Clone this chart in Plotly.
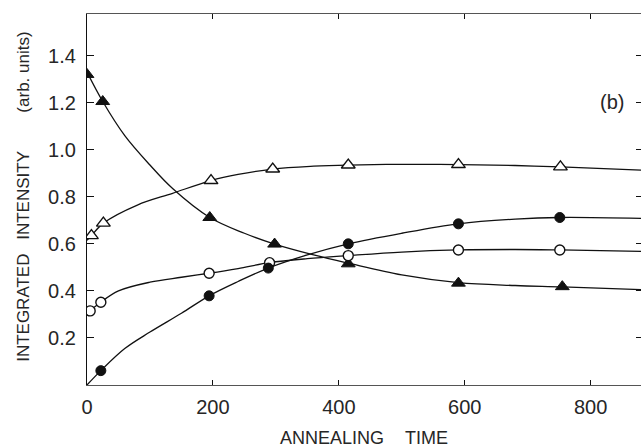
import plotly.graph_objects as go

# ---- data ----
x_ticks = [0, 200, 400, 600, 800]
x_ticktext = ["0", "200", "400", "600", "800"]
y_ticks = [0.2, 0.4, 0.6, 0.8, 1.0, 1.2, 1.4]
y_ticktext = ["0.2", "0.4", "0.6", "0.8", "1.0", "1.2", "1.4"]

# measured points
tri_filled_x = [0, 25, 195, 298, 415, 590, 755]
tri_filled_y = [1.32, 1.205, 0.712, 0.599, 0.515, 0.433, 0.418]
tri_open_x = [7, 26, 197, 295, 415, 590, 752]
tri_open_y = [0.635, 0.688, 0.869, 0.918, 0.935, 0.937, 0.927]
circ_open_x = [5, 22, 194, 290, 415, 590, 751]
circ_open_y = [0.315, 0.352, 0.475, 0.52, 0.55, 0.574, 0.574]
circ_filled_x = [22, 194, 288, 415, 590, 751]
circ_filled_y = [0.061, 0.379, 0.497, 0.60, 0.685, 0.712]

# fitted guide curves
tri_filled_cx = [0, 25, 60, 100, 136, 195, 250, 298, 360, 415, 500, 590, 680, 755, 880]
tri_filled_cy = [1.33, 1.205, 1.06, 0.935, 0.835, 0.712, 0.645, 0.599, 0.553, 0.518, 0.468, 0.435, 0.423, 0.417, 0.405]
tri_open_cx = [0, 7, 26, 80, 136, 197, 240, 295, 360, 415, 500, 590, 680, 752, 880]
tri_open_cy = [0.615, 0.635, 0.688, 0.765, 0.815, 0.869, 0.895, 0.918, 0.93, 0.935, 0.938, 0.937, 0.933, 0.927, 0.913]
circ_open_cx = [0, 5, 22, 50, 100, 150, 194, 240, 290, 350, 415, 500, 590, 680, 751, 880]
circ_open_cy = [0.295, 0.315, 0.352, 0.40, 0.437, 0.458, 0.475, 0.495, 0.52, 0.537, 0.55, 0.565, 0.574, 0.576, 0.574, 0.568]
circ_filled_cx = [0, 22, 60, 100, 150, 194, 240, 288, 350, 415, 500, 590, 680, 751, 880]
circ_filled_cy = [0, 0.061, 0.155, 0.225, 0.305, 0.379, 0.44, 0.497, 0.553, 0.60, 0.645, 0.685, 0.705, 0.712, 0.708]

INK = "#111111"
TEXT = "#262626"
TICKFONT = dict(family="Liberation Sans, Arial, sans-serif", size=20, color=TEXT)
TITLEFONT = dict(family="Liberation Sans, Arial, sans-serif", size=17, color=TEXT)
XTITLEFONT = dict(family="Liberation Sans, Arial, sans-serif", size=18, color=TEXT)

fig = go.Figure()

line_style = dict(color=INK, width=1.3, shape="spline", smoothing=1.0)
for cx, cy in [(tri_filled_cx, tri_filled_cy), (tri_open_cx, tri_open_cy),
               (circ_open_cx, circ_open_cy), (circ_filled_cx, circ_filled_cy)]:
    fig.add_trace(go.Scatter(x=cx, y=cy, mode="lines", line=line_style,
                             showlegend=False, hoverinfo="skip"))

fig.add_trace(go.Scatter(x=tri_filled_x, y=tri_filled_y, mode="markers",
                         marker=dict(symbol="triangle-up", size=12, color=INK,
                                     line=dict(color=INK, width=1)),
                         showlegend=False))
fig.add_trace(go.Scatter(x=tri_open_x, y=tri_open_y, mode="markers",
                         marker=dict(symbol="triangle-up", size=12, color="white",
                                     line=dict(color=INK, width=1.4)),
                         showlegend=False))
fig.add_trace(go.Scatter(x=circ_open_x, y=circ_open_y, mode="markers",
                         marker=dict(symbol="circle", size=10, color="white",
                                     line=dict(color=INK, width=1.4)),
                         showlegend=False))
fig.add_trace(go.Scatter(x=circ_filled_x, y=circ_filled_y, mode="markers",
                         marker=dict(symbol="circle", size=10, color=INK,
                                     line=dict(color=INK, width=1)),
                         showlegend=False))
# dummy trace for right-hand tick axis
fig.add_trace(go.Scatter(x=[None], y=[None], yaxis="y2", showlegend=False, hoverinfo="skip"))

yr = [0, 1.577]
fig.update_layout(
    width=641, height=448,
    margin=dict(l=87, r=0, t=14, b=63),
    paper_bgcolor="white", plot_bgcolor="white",
    xaxis=dict(range=[0, 880], tickvals=x_ticks, ticktext=x_ticktext,
               ticks="inside", ticklen=5, tickwidth=1, tickcolor=INK,
               showline=True, linecolor="#555555", linewidth=1.3, mirror="ticks",
               showgrid=False, zeroline=False, tickfont=TICKFONT,
               ticklabelstandoff=4),
    yaxis=dict(range=yr, tickvals=y_ticks, ticktext=y_ticktext,
               ticks="inside", ticklen=7, tickwidth=1, tickcolor=INK,
               showline=True, linecolor=INK, linewidth=1.3,
               showgrid=False, zeroline=False, tickfont=TICKFONT,
               ticklabelstandoff=6),
    yaxis2=dict(range=yr, tickvals=y_ticks, overlaying="y", side="right",
                ticks="inside", ticklen=5, tickwidth=1, tickcolor=INK,
                showticklabels=False, showline=False, showgrid=False, zeroline=False),
)

ann_common = dict(xref="paper", yref="paper", showarrow=False, font=TITLEFONT)
fig.add_annotation(text="INTEGRATED", x=-0.1137, y=0.208, textangle=-90,
                   xanchor="center", yanchor="middle", **ann_common)
fig.add_annotation(text="INTENSITY", x=-0.1137, y=0.51, textangle=-90,
                   xanchor="center", yanchor="middle", **ann_common)
fig.add_annotation(text="(arb. units)", x=-0.1137, y=0.842, textangle=-90,
                   xanchor="center", yanchor="middle", **ann_common)
xt_common = dict(xref="paper", yref="paper", showarrow=False, font=XTITLEFONT)
fig.add_annotation(text="ANNEALING", x=0.4419, y=-0.143,
                   xanchor="center", yanchor="middle", **xt_common)
fig.add_annotation(text="TIME", x=0.6128, y=-0.143,
                   xanchor="center", yanchor="middle", **xt_common)
fig.add_annotation(text="(b)", x=0.948, y=0.7636, xanchor="center", yanchor="middle",
                   xref="paper", yref="paper", showarrow=False,
                   font=dict(family="Liberation Sans, Arial, sans-serif", size=20, color=TEXT))

fig.write_html("out.html")
